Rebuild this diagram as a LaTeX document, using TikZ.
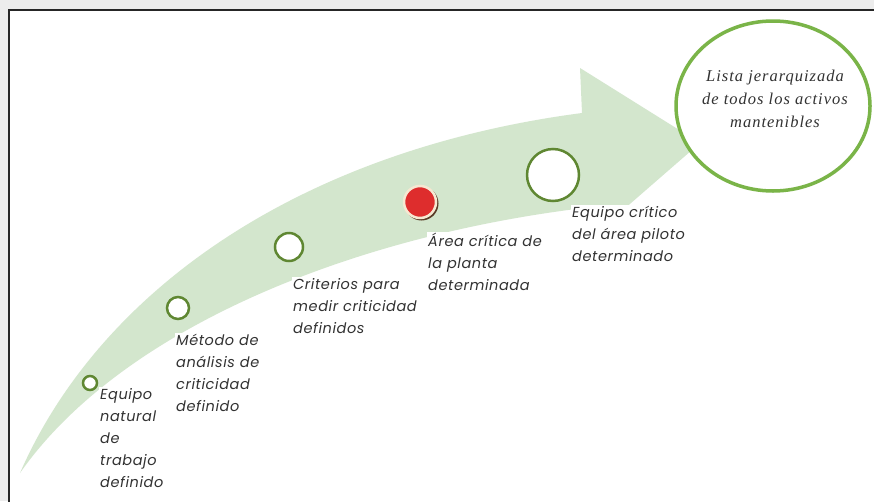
\documentclass[tikz,border=0pt]{standalone}
\usepackage{fontspec}
\setmainfont{Poppins}
\newfontfamily\stagefont[LetterSpace=4]{Poppins}
\newfontfamily\goalfont[LetterSpace=6]{Liberation Serif}
\usetikzlibrary{positioning, shapes.geometric}
\definecolor{bggray}{RGB}{236,236,236}
\definecolor{arrowgreen}{RGB}{211,230,205}
\definecolor{ringgreen}{RGB}{95,135,50}
\definecolor{ellgreen}{RGB}{122,180,72}
\definecolor{dotred}{RGB}{222,45,45}
\definecolor{ringcream}{RGB}{246,232,210}
\definecolor{dotshadow}{RGB}{90,60,40}
\definecolor{txtgray}{RGB}{50,50,50}

\tikzset{
	stage/.style={circle, draw=ringgreen, line width=2.5pt, fill=white, inner sep=0pt},
	lbl/.style={anchor=north west, align=left, fill=white, inner sep=1pt, text=txtgray,
		font=\stagefont\itshape\fontsize{14.5}{22}\selectfont},
}

\begin{document}
\begin{tikzpicture}[x=1pt, y=-1pt]
		\useasboundingbox (0,0) rectangle (874,501);
		\clip (0,0) rectangle (874,501);
		% frame
		\fill [bggray] (0,0) rectangle (874,501);
		\filldraw [fill=white, draw=black!85, line width=2.5pt] (9,10) rectangle (900,530);
		% curved arrow
		\fill [arrowgreen] (20,473) .. controls (100,290) and (300,150) .. (582,113)
			-- (580,68) -- (700,143) -- (600,230) -- (592,207)
			.. controls (350,235) and (120,330) .. (20,473) -- cycle;
		% goal
		\node [ellipse, draw=ellgreen, line width=3.5pt, fill=white,
			minimum width=194pt, minimum height=170pt] (goal) at (773,106) {};
		\node [align=center, text=txtgray, font=\goalfont\itshape\fontsize{16.5}{23}\selectfont]
			(goaltxt) at (775,99) {Lista jerarquizada\\de todos los activos\\mantenibles};
		% stages
		\node [stage, line width=2.5pt, minimum size=14pt] (s1) at (90,383) {};
		\node [stage, minimum size=22pt] (s2) at (178,308) {};
		\node [stage, minimum size=28pt] (s3) at (289,247) {};
		\fill [dotshadow] (421.5,203.5) circle (17);
		\node [circle, fill=dotred, draw=ringcream, line width=2.5pt, inner sep=0pt,
			minimum size=32pt] (s4) at (420,202) {};
		\node [stage, minimum size=52pt] (s5) at (553,175) {};
		% labels
		\node [lbl] (l1) at (99,387) {Equipo\\natural\\de\\trabajo\\definido};
		\node [lbl] (l2) at (175,333) {Método de\\análisis de\\criticidad\\definido};
		\node [lbl] (l3) at (292,277) {Criterios para\\medir criticidad\\definidos};
		\node [lbl] (l4) at (427,232) {Área crítica de\\la planta\\determinada};
		\node [lbl] (l5) at (571,205) {Equipo crítico\\del área piloto\\determinado};
	\end{tikzpicture}
\end{document}
